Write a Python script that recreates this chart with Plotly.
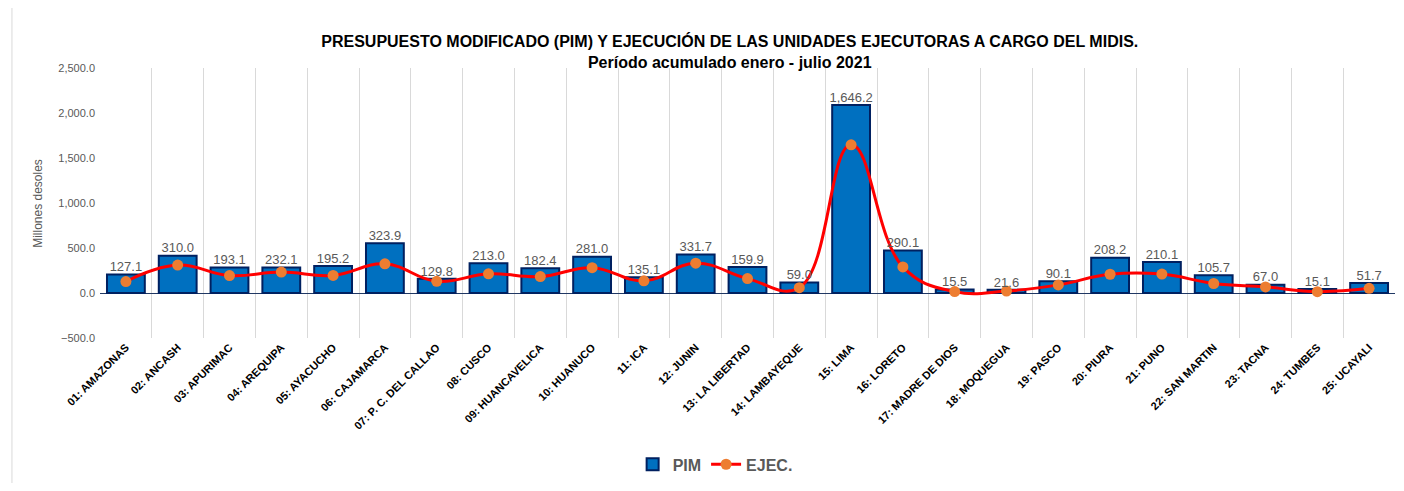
import plotly.graph_objects as go

# data (millones de soles)
categorias = [
    "01: AMAZONAS", "02: ANCASH", "03: APURIMAC", "04: AREQUIPA", "05: AYACUCHO",
    "06: CAJAMARCA", "07: P. C. DEL CALLAO", "08: CUSCO", "09: HUANCAVELICA",
    "10: HUANUCO", "11: ICA", "12: JUNIN", "13: LA LIBERTAD", "14: LAMBAYEQUE",
    "15: LIMA", "16: LORETO", "17: MADRE DE DIOS", "18: MOQUEGUA", "19: PASCO",
    "20: PIURA", "21: PUNO", "22: SAN MARTIN", "23: TACNA", "24: TUMBES", "25: UCAYALI",
]
pim = [
    205, 415, 282, 282, 300, 554, 158, 330, 275, 403, 176, 429, 290, 117,
    2090, 473, 40, 35, 130, 393, 345, 198, 92, 44, 110,
]
ejec = [
    127.1, 310.0, 193.1, 232.1, 195.2, 323.9, 129.8, 213.0, 182.4, 281.0,
    135.1, 331.7, 159.9, 59.0, 1646.2, 290.1, 15.5, 21.6, 90.1, 208.2,
    210.1, 105.7, 67.0, 15.1, 51.7,
]

font_main = "Liberation Sans Narrow, Arial Narrow, Liberation Sans, sans-serif"

fig = go.Figure()

fig.add_trace(go.Bar(
    x=categorias, y=pim, name="PIM",
    marker=dict(color="#0070C0", line=dict(color="#002060", width=2)),
))

fig.add_trace(go.Scatter(
    x=categorias, y=ejec, name="EJEC.", mode="lines+markers",
    line=dict(color="#FF0000", width=3, shape="spline", smoothing=1.2),
    marker=dict(color="#ED7D31", size=11),
))

# data labels above the bars
fig.add_trace(go.Scatter(
    x=categorias, y=[max(p, e) for p, e in zip(pim, ejec)],
    mode="text", text=[f"{v:,.1f}" for v in ejec],
    textposition="top center",
    textfont=dict(family=font_main, size=13, color="#595959"),
    showlegend=False, hoverinfo="skip",
))

fig.update_layout(
    width=1388, height=475,
    paper_bgcolor="white", plot_bgcolor="white",
    margin=dict(l=92, r=1, t=60, b=142),
    bargap=0.27,
    font=dict(family=font_main, color="#595959"),
    title=dict(
        text="<b>PRESUPUESTO MODIFICADO (PIM) Y EJECUCIÓN DE LAS UNIDADES EJECUTORAS A CARGO DEL MIDIS.<br>Período acumulado enero - julio 2021</b>",
        x=0.52, xanchor="center", y=0.918, yanchor="top",
        font=dict(family=font_main, size=16, color="black"),
    ),
    legend=dict(
        orientation="h", x=0.475, xanchor="center", y=-0.468, yanchor="middle",
        font=dict(family=font_main, size=16, color="#595959", weight="bold"),
    ),
    xaxis=dict(
        range=[-0.5, len(categorias) - 0.5],
        tickson="boundaries", showgrid=True, gridcolor="#D9D9D9", gridwidth=1,
        ticks="", tickangle=-45, automargin=False,
        tickfont=dict(family=font_main, size=11, color="black", weight="bold"),
        showline=False,
    ),
    yaxis=dict(
        range=[-500, 2500], dtick=500, tickformat=",.1f", automargin=False,
        showgrid=False, zeroline=True, zerolinecolor="#203864", zerolinewidth=1,
        tickfont=dict(family=font_main, size=11, color="#595959"),
        ticklabelstandoff=4,
    ),
    annotations=[dict(
        text="Millones desoles", xref="paper", yref="paper",
        x=-0.048, y=0.5, xanchor="center", yanchor="middle", textangle=-90,
        showarrow=False, font=dict(family=font_main, size=12, color="#595959"),
    )],
    shapes=[dict(
        type="line", xref="paper", yref="paper",
        x0=-0.068, x1=-0.068, y0=-0.6, y1=1.3,
        line=dict(color="#D9D9D9", width=1),
    )],
)

fig.write_html("out.html")
